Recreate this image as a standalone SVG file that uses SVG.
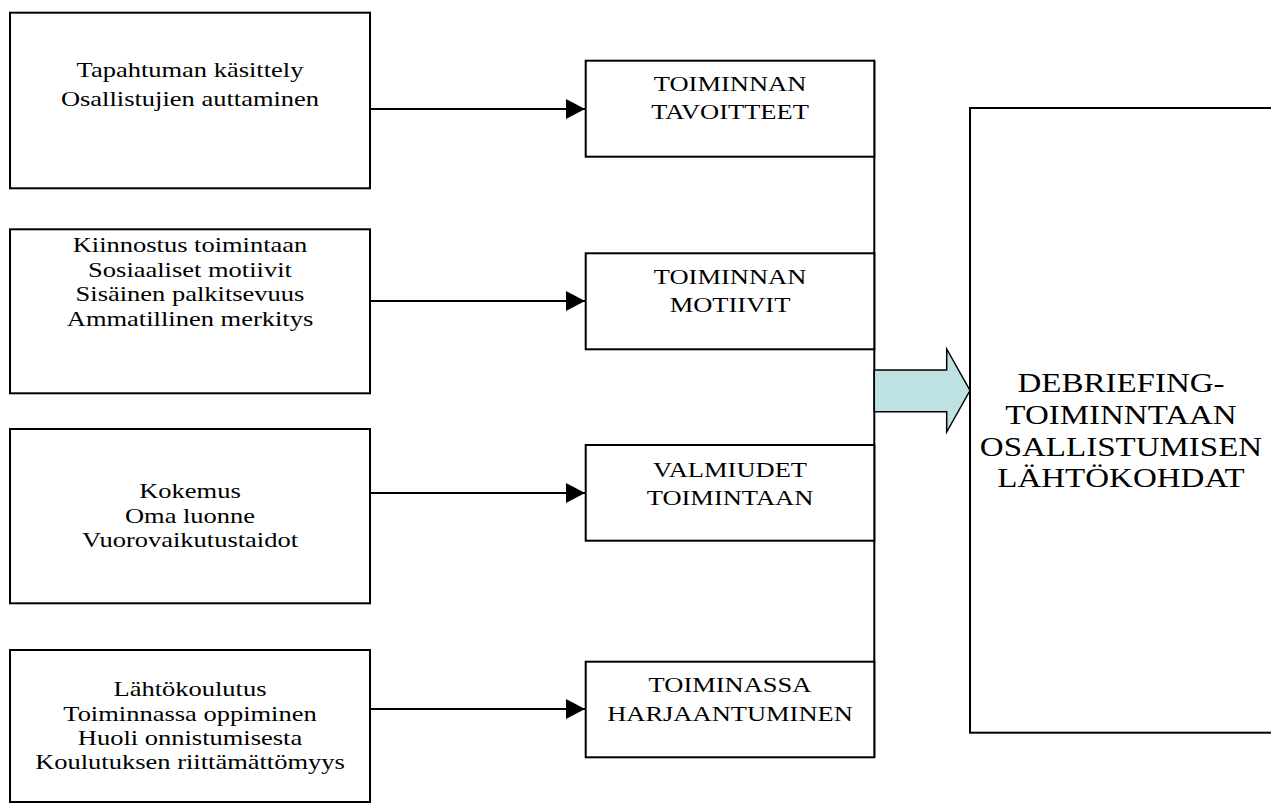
<svg xmlns="http://www.w3.org/2000/svg" width="1271" height="805" viewBox="0 0 1271 805">
<style>
.box{fill:#fff;stroke:#000;stroke-width:2}
.t{font-family:"Liberation Serif","Times New Roman",serif;font-size:26.5px;text-anchor:middle;fill:#000}
.big{font-family:"Liberation Serif","Times New Roman",serif;font-size:33px;text-anchor:middle;fill:#000}
.ln{stroke:#000;stroke-width:2;fill:none}
</style>
<defs>
<marker id="ah" markerWidth="20" markerHeight="20" refX="19" refY="10" orient="auto" markerUnits="userSpaceOnUse">
<path d="M0,0 L19,10 L0,20 Z" fill="#000"/>
</marker>
</defs>
<rect width="1271" height="805" fill="#fff"/>
<g id="connectors">
<line class="ln" x1="371" y1="109" x2="585" y2="109" marker-end="url(#ah)"/>
<line class="ln" x1="371" y1="301" x2="585" y2="301" marker-end="url(#ah)"/>
<line class="ln" x1="371" y1="493" x2="585" y2="493" marker-end="url(#ah)"/>
<line class="ln" x1="371" y1="709" x2="585" y2="709" marker-end="url(#ah)"/>
<line class="ln" x1="874.3" y1="60.7" x2="874.3" y2="757.3"/>
<polygon points="874.3,370 946.7,370 946.7,349 970,390.5 946.7,432 946.7,411.7 874.3,411.7" fill="#bee1e4" stroke="#000" stroke-width="1.5"/>
</g>
<g id="src1">
<rect class="box" x="10" y="12.7" width="360" height="175.6"/>
<text class="t" transform="matrix(1 0 0 0.8 190 77)">Tapahtuman käsittely</text>
<text class="t" transform="matrix(1 0 0 0.8 190 106)">Osallistujien auttaminen</text>
</g>
<g id="src2">
<rect class="box" x="10" y="229.3" width="360" height="164"/>
<text class="t" transform="matrix(1 0 0 0.8 190 252)">Kiinnostus toimintaan</text>
<text class="t" transform="matrix(1 0 0 0.8 190 277)">Sosiaaliset motiivit</text>
<text class="t" transform="matrix(1 0 0 0.8 190 301)">Sisäinen palkitsevuus</text>
<text class="t" transform="matrix(1 0 0 0.8 190 326)">Ammatillinen merkitys</text>
</g>
<g id="src3">
<rect class="box" x="10" y="429" width="360" height="174.3"/>
<text class="t" transform="matrix(1 0 0 0.8 190 498)">Kokemus</text>
<text class="t" transform="matrix(1 0 0 0.8 190 523)">Oma luonne</text>
<text class="t" transform="matrix(1 0 0 0.8 190 547)">Vuorovaikutustaidot</text>
</g>
<g id="src4">
<rect class="box" x="10" y="650" width="360" height="152"/>
<text class="t" transform="matrix(1 0 0 0.8 190 696)">Lähtökoulutus</text>
<text class="t" transform="matrix(1 0 0 0.8 190 721)">Toiminnassa oppiminen</text>
<text class="t" transform="matrix(1 0 0 0.8 190 745)">Huoli onnistumisesta</text>
<text class="t" transform="matrix(1 0 0 0.8 190 769)">Koulutuksen riittämättömyys</text>
</g>
<g id="mid1">
<rect class="box" x="585.7" y="60.7" width="288.6" height="96"/>
<text class="t" transform="matrix(1 0 0 0.8 730 91)">TOIMINNAN</text>
<text class="t" transform="matrix(1 0 0 0.8 730 119)">TAVOITTEET</text>
</g>
<g id="mid2">
<rect class="box" x="585.7" y="253.3" width="288.6" height="96"/>
<text class="t" transform="matrix(1 0 0 0.8 730 284)">TOIMINNAN</text>
<text class="t" transform="matrix(1 0 0 0.8 730 312)">MOTIIVIT</text>
</g>
<g id="mid3">
<rect class="box" x="585.7" y="445" width="288.6" height="95.7"/>
<text class="t" transform="matrix(1 0 0 0.8 730 477)">VALMIUDET</text>
<text class="t" transform="matrix(1 0 0 0.8 730 505)">TOIMINTAAN</text>
</g>
<g id="mid4">
<rect class="box" x="585.7" y="661.7" width="288.6" height="95.6"/>
<text class="t" transform="matrix(1 0 0 0.8 730 692)">TOIMINASSA</text>
<text class="t" transform="matrix(1 0 0 0.8 730 721)">HARJAANTUMINEN</text>
</g>
<g id="target">
<rect class="box" x="970" y="108" width="330" height="624.7"/>
<text class="big" transform="matrix(1 0 0 0.8 1121 392)">DEBRIEFING-</text>
<text class="big" transform="matrix(1 0 0 0.8 1121 424)">TOIMINNTAAN</text>
<text class="big" transform="matrix(1 0 0 0.8 1121 456)">OSALLISTUMISEN</text>
<text class="big" transform="matrix(1 0 0 0.8 1121 487)">LÄHTÖKOHDAT</text>
</g>
</svg>
